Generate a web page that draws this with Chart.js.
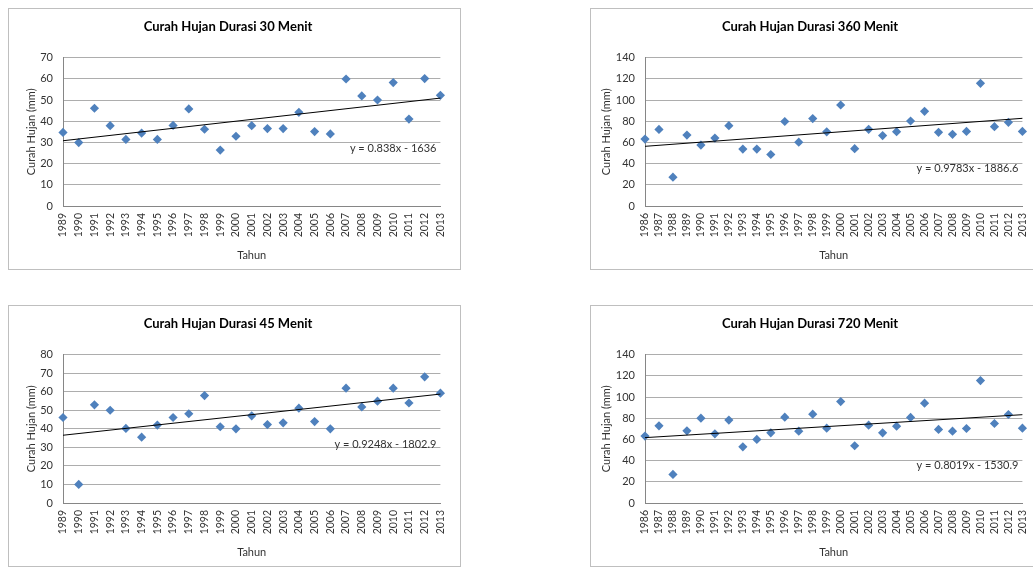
<!DOCTYPE html>
<html>
<head>
<meta charset="utf-8">
<title>Curah Hujan</title>
<script src="https://cdn.jsdelivr.net/npm/chart.js@4/dist/chart.umd.min.js"></script>
<style>
  html, body { margin: 0; padding: 0; background: #fff; overflow: hidden; width: 1033px; height: 567px; position: relative; }
  .box { position: absolute; width: 451px; height: 260px; border: 1px solid #bfbfbf; background: #fff; }
  canvas { display: block; }
</style>
</head>
<body>
<div class="box" style="left:8px;top:8px"><canvas id="c30" width="451" height="260"></canvas></div>
<div class="box" style="left:590px;top:8px"><canvas id="c360" width="451" height="260"></canvas></div>
<div class="box" style="left:8px;top:305px"><canvas id="c45" width="451" height="260"></canvas></div>
<div class="box" style="left:590px;top:305px"><canvas id="c720" width="451" height="260"></canvas></div>
<script>
// Years (x-axis tick labels)
const years30 = [1989, 1990, 1991, 1992, 1993, 1994, 1995, 1996, 1997, 1998, 1999, 2000, 2001,
                 2002, 2003, 2004, 2005, 2006, 2007, 2008, 2009, 2010, 2011, 2012, 2013];
const years45 = years30;
const years360 = [1986, 1987, 1988, 1989, 1990, 1991, 1992, 1993, 1994, 1995, 1996, 1997, 1998, 1999,
                  2000, 2001, 2002, 2003, 2004, 2005, 2006, 2007, 2008, 2009, 2010, 2011, 2012, 2013];
const years720 = years360;

// Rainfall depth per year (mm)
const rain30 = [34.7, 29.9, 46.1, 37.9, 31.4, 34.4, 31.4, 38.0, 45.8, 36.2, 26.4, 32.9, 37.9,
                36.5, 36.5, 44.2, 35.1, 34.0, 59.9, 51.9, 50.0, 58.2, 41.0, 60.1, 52.2];
const rain45 = [46.1, 10.0, 52.9, 50.0, 40.2, 35.5, 42.0, 46.1, 48.1, 57.9, 41.1, 40.0, 47.0,
                42.3, 43.2, 51.1, 43.9, 40.0, 61.9, 51.8, 54.9, 61.9, 53.9, 68.0, 59.2];
const rain360 = [63.1, 72.2, 27.2, 66.9, 57.5, 64.1, 75.8, 53.7, 53.7, 48.6, 79.7, 60.2, 82.5, 70.0,
                 95.3, 54.1, 72.3, 66.4, 70.1, 80.2, 89.3, 69.5, 67.6, 70.4, 115.7, 74.8, 78.9, 70.4];
const rain720 = [63.1, 72.8, 27.0, 68.1, 80.0, 65.3, 78.2, 53.0, 60.0, 66.2, 81.0, 67.8, 83.8, 70.6,
                 95.7, 54.0, 73.4, 66.2, 72.5, 80.7, 94.2, 69.4, 67.8, 70.3, 115.5, 75.0, 83.5, 70.6];

// Linear trendline coefficients: y = slope * x + intercept
const trend30 = [0.838, -1636];
const trend45 = [0.9248, -1802.9];
const trend360 = [0.9783, -1886.6];
const trend720 = [0.8019, -1530.9];

const FONT = 'Lato, "Open Sans", sans-serif';
const TEXT = '#333333';

// Draws the trendline equation near the right edge of the plot
const eqLabel = {
  id: 'eqLabel',
  afterDatasetsDraw(chart, args, opts) {
    const { ctx, chartArea, scales } = chart;
    ctx.save();
    ctx.font = '11px ' + FONT;
    ctx.fillStyle = TEXT;
    ctx.textAlign = 'right';
    ctx.textBaseline = 'middle';
    ctx.fillText(opts.text, chartArea.right - 4, scales.y.getPixelForValue(opts.at));
    ctx.restore();
  }
};

function makeChart(id, title, years, values, yMax, yStep, trend, eqAt, yTitlePad) {
  const [slope, intercept] = trend;
  const first = years[0], last = years[years.length - 1];
  const points = years.map((yr, i) => ({ x: yr, y: values[i] }));
  const line = [first, last].map(yr => ({ x: yr, y: slope * yr + intercept }));
  const eqText = 'y = ' + slope + 'x ' + (intercept < 0 ? '- ' : '+ ') + Math.abs(intercept);

  new Chart(document.getElementById(id), {
    type: 'scatter',
    data: {
      datasets: [
        {
          data: points, pointStyle: 'rectRot', pointRadius: 4.6, pointHoverRadius: 4.6,
          backgroundColor: '#4f81bd', borderColor: '#4f81bd', borderWidth: 0, clip: false, order: 1
        },
        {
          type: 'line', data: line, borderColor: '#000', borderWidth: 1, pointRadius: 0,
          fill: false, clip: false, order: 0
        }
      ]
    },
    options: {
      responsive: false, animation: false, devicePixelRatio: 1,
      layout: { padding: { left: 0, top: 0, right: 13, bottom: 0 } },
      plugins: {
        legend: { display: false },
        tooltip: { enabled: false },
        title: {
          display: true, text: title, color: '#000',
          font: { family: FONT, size: 13, weight: 'bold' },
          padding: { top: 10, bottom: 23 }
        },
        eqLabel: { text: eqText, at: eqAt }
      },
      scales: {
        x: {
          type: 'linear', min: first, max: last,
          afterFit: s => { s.height = 63; },
          afterBuildTicks: s => { s.ticks = years.map(v => ({ value: v })); },
          ticks: {
            autoSkip: false, minRotation: 90, maxRotation: 90, padding: 7,
            color: TEXT, font: { family: FONT, size: 10.5 }, callback: v => String(v)
          },
          grid: { display: false, drawTicks: false },
          border: { display: true, color: '#868686' },
          title: {
            display: true, text: 'Tahun', color: TEXT,
            font: { family: FONT, size: 11 }, padding: { top: 0, bottom: 7 }
          }
        },
        y: {
          min: 0, max: yMax,
          afterFit: s => { s.width = 54; },
          ticks: { stepSize: yStep, padding: 10, color: TEXT, font: { family: FONT, size: 11 } },
          grid: { color: '#adadad', drawTicks: false },
          border: { display: true, color: '#868686' },
          title: {
            display: true, text: 'Curah Hujan (mm)', color: TEXT,
            font: { family: FONT, size: 11 }, padding: { top: yTitlePad, bottom: 0 }
          }
        }
      }
    },
    plugins: [eqLabel]
  });
}

makeChart('c30', 'Curah Hujan Durasi 30 Menit', years30, rain30, 70, 10, trend30, 27.3, 16);
makeChart('c360', 'Curah Hujan Durasi 360 Menit', years360, rain360, 140, 20, trend360, 35.6, 9);
makeChart('c45', 'Curah Hujan Durasi 45 Menit', years45, rain45, 80, 10, trend45, 31.4, 16);
makeChart('c720', 'Curah Hujan Durasi 720 Menit', years720, rain720, 140, 20, trend720, 35.6, 9);
</script>
</body>
</html>
